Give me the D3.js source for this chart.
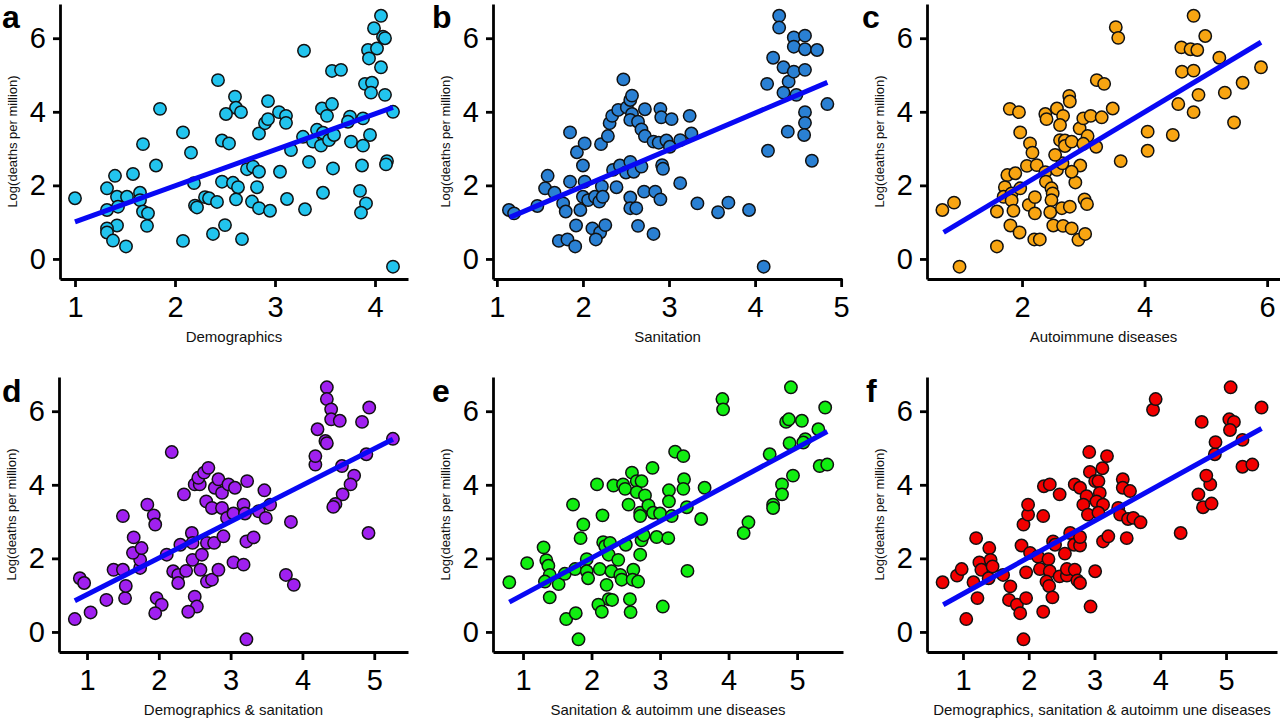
<!DOCTYPE html>
<html><head><meta charset="utf-8">
<script src="https://cdn.jsdelivr.net/npm/d3@7"></script>
<style>body{margin:0;background:#fff}svg{display:block}</style>
</head><body>
<svg id="chart" width="1280" height="721"></svg>
<script>
// ---- data ----
const panelLetters = ["a","b","c","d","e","f"];
const xTitles = ["Demographics","Sanitation","Autoimmune diseases","Demographics & sanitation","Sanitation & autoimm une diseases","Demographics, sanitation & autoimm une diseases"];
const yTitle = "Log(deaths per million)";
const yTicks = [0,2,4,6];
const xTicksA = [1,2,3,4];
const xTicksB = [1,2,3,4,5];
const xTicksC = [2,4,6];
const xTicksD = [1,2,3,4,5];
const xTicksE = [1,2,3,4,5];
const xTicksF = [1,2,3,4,5];

const ptsA = [[1.0,1.65],[1.32,1.92],[1.40,2.26],[1.58,2.31],[1.68,3.12],[1.85,4.08],[1.81,2.54],[1.42,1.69],[1.52,1.69],[1.65,1.80],[1.65,1.60],[1.32,1.33],[1.43,1.42],[1.68,1.29],[1.73,1.24],[1.72,0.90],[1.42,0.91],[1.32,0.83],[1.32,0.72],[1.38,0.50],[1.51,0.34],[2.08,3.44],[2.16,2.89],[2.19,2.06],[2.20,1.45],[2.22,1.40],[2.30,1.68],[2.34,1.65],[2.42,1.55],[2.08,0.49],[2.38,0.68],[2.50,0.92],[2.67,0.54],[2.43,4.86],[2.60,4.41],[2.61,4.11],[2.51,3.94],[2.66,3.99],[2.47,3.22],[2.54,3.14],[2.47,2.10],[2.58,2.07],[2.63,1.95],[2.61,1.62],[2.72,2.44],[2.78,2.51],[2.84,2.37],[2.82,1.95],[2.77,1.56],[2.84,1.38],[2.95,1.31],[2.84,3.41],[2.90,3.69],[2.93,3.80],[2.93,4.29],[3.04,3.99],[3.11,3.89],[3.11,3.70],[3.05,2.37],[3.16,2.96],[3.12,1.63],[3.30,1.35],[3.29,5.66],[3.28,3.32],[3.34,2.64],[3.38,3.19],[3.42,3.51],[3.47,4.09],[3.57,4.21],[3.52,3.89],[3.48,3.43],[3.46,3.08],[3.54,3.23],[3.59,3.37],[3.58,2.46],[3.48,1.80],[3.57,5.11],[3.66,5.14],[3.75,3.87],[3.73,3.73],[3.76,3.19],[3.88,3.82],[3.88,3.08],[3.95,3.37],[3.87,2.54],[3.85,1.85],[3.91,1.51],[3.86,1.26],[3.90,4.76],[3.97,4.79],[3.96,4.52],[4.10,4.46],[4.18,4.00],[4.06,5.21],[3.93,5.68],[4.02,5.72],[3.94,5.45],[4.08,6.04],[4.10,6.00],[3.99,6.27],[4.06,6.61],[4.12,2.66],[4.11,2.57],[4.18,-0.21]];
const ptsB = [[1.14,1.33],[1.20,1.24],[1.47,1.44],[1.59,2.26],[1.56,1.92],[1.67,1.80],[1.77,1.51],[1.80,1.29],[1.85,3.44],[1.85,2.10],[1.93,2.90],[2.02,3.14],[2.00,2.54],[2.02,2.10],[2.00,1.69],[2.06,1.60],[1.97,1.33],[1.92,0.91],[1.72,0.49],[1.82,0.53],[1.91,0.34],[2.11,0.83],[2.20,0.72],[2.26,0.92],[2.15,0.53],[2.14,1.69],[2.19,1.56],[2.22,1.97],[2.23,1.69],[2.39,1.95],[2.21,3.12],[2.29,3.34],[2.31,3.69],[2.34,3.89],[2.41,4.05],[2.47,4.88],[2.51,4.12],[2.55,4.32],[2.57,4.44],[2.57,3.94],[2.55,3.78],[2.64,3.73],[2.68,3.52],[2.72,3.34],[2.72,4.07],[2.90,4.08],[2.91,3.85],[3.03,3.80],[3.24,3.89],[2.82,3.19],[2.88,3.16],[2.97,3.22],[3.01,3.05],[3.13,3.23],[3.26,3.41],[2.35,2.42],[2.43,2.54],[2.50,2.35],[2.55,2.64],[2.59,2.37],[2.68,2.51],[2.92,2.55],[2.93,2.45],[2.55,1.67],[2.55,1.38],[2.62,1.38],[2.71,1.83],[2.84,1.83],[2.90,1.62],[2.64,0.90],[2.82,0.68],[3.13,2.06],[3.33,1.51],[3.57,1.27],[3.69,1.53],[3.93,1.33],[4.10,-0.21],[4.15,2.94],[4.14,4.76],[4.21,5.47],[4.28,6.61],[4.28,6.29],[4.33,5.21],[4.39,4.82],[4.33,4.52],[4.38,3.46],[4.45,5.09],[4.45,6.02],[4.45,5.77],[4.58,6.07],[4.58,5.70],[4.72,5.68],[4.58,5.14],[4.48,4.46],[4.58,3.99],[4.58,3.70],[4.57,3.37],[4.66,2.67],[4.84,4.21]];
const ptsC = [[0.70,1.33],[0.89,1.53],[0.98,-0.21],[1.59,1.29],[1.59,0.34],[1.80,4.08],[1.95,3.99],[1.97,3.44],[2.13,3.14],[2.17,2.89],[2.08,2.53],[2.24,2.55],[1.76,2.28],[1.89,2.33],[1.72,1.95],[1.70,1.69],[1.83,1.78],[1.97,1.92],[1.83,1.59],[1.86,1.31],[1.81,0.91],[1.96,0.72],[2.11,1.47],[2.21,1.24],[2.21,1.68],[2.20,0.53],[2.29,0.53],[2.38,2.36],[2.39,2.10],[2.48,1.92],[2.50,1.78],[2.48,1.60],[2.46,1.27],[2.51,0.91],[2.57,2.42],[2.66,2.60],[2.65,1.38],[2.78,1.42],[2.67,0.90],[2.81,0.83],[2.92,0.52],[3.03,0.68],[3.02,1.62],[3.06,1.49],[2.87,2.08],[2.95,2.54],[2.81,2.37],[2.38,3.94],[2.40,3.80],[2.57,4.09],[2.67,3.89],[2.62,3.64],[2.77,4.43],[2.78,4.28],[2.62,3.23],[2.70,3.22],[2.70,3.07],[2.81,3.19],[2.94,3.55],[3.00,3.82],[3.12,3.89],[3.30,3.85],[3.07,3.34],[3.00,3.13],[3.21,3.05],[3.22,4.86],[3.34,4.76],[3.48,4.09],[3.53,6.30],[3.57,6.01],[3.61,2.66],[4.05,3.46],[4.05,2.94],[4.46,3.37],[4.55,4.21],[4.61,5.09],[4.80,5.12],[4.60,5.75],[4.75,5.70],[4.86,5.68],[4.80,6.61],[4.99,6.06],[5.22,5.47],[4.88,4.46],[4.80,3.99],[5.31,4.52],[5.46,3.71],[5.60,4.79],[5.90,5.21],[2.54,2.83]];
const ptsD = [[0.83,0.35],[1.05,0.53],[0.90,1.46],[0.96,1.33],[1.27,0.87],[1.53,0.92],[1.54,1.25],[1.37,1.69],[1.50,1.69],[1.74,1.74],[1.74,1.96],[1.64,2.15],[1.76,2.28],[1.65,2.57],[1.50,3.15],[1.84,3.46],[1.93,3.17],[1.95,2.92],[2.11,2.10],[1.97,0.92],[2.04,0.74],[1.95,0.51],[2.18,4.89],[2.20,1.65],[2.27,1.55],[2.27,1.33],[2.38,1.66],[2.30,2.37],[2.35,3.74],[2.46,2.69],[2.47,2.42],[2.47,1.96],[2.60,2.10],[2.58,1.69],[2.67,1.37],[2.74,1.42],[2.83,1.69],[2.50,0.96],[2.53,0.69],[2.41,0.55],[2.67,2.42],[2.77,2.42],[2.90,2.60],[3.04,1.89],[3.18,1.83],[3.22,-0.20],[2.50,4.01],[2.57,4.01],[2.55,4.19],[2.63,4.33],[2.69,4.46],[2.78,3.92],[2.83,4.15],[2.88,3.78],[2.97,4.01],[3.06,3.92],[3.23,4.10],[2.66,3.55],[2.74,3.37],[2.88,3.37],[2.95,3.10],[3.04,3.22],[3.18,3.46],[3.20,3.22],[3.39,3.28],[3.49,3.10],[3.47,3.85],[3.55,3.46],[3.22,2.46],[3.32,2.57],[3.84,2.99],[3.77,1.55],[3.88,1.28],[4.18,4.55],[4.18,4.78],[4.21,5.51],[4.32,5.19],[4.34,5.13],[4.34,6.65],[4.34,6.33],[4.40,6.05],[4.40,5.78],[4.52,5.74],[4.55,4.51],[4.72,4.25],[4.67,4.01],[4.56,3.74],[4.46,3.48],[4.43,3.40],[4.83,5.71],[4.93,6.10],[4.89,4.83],[4.92,2.69],[5.26,5.25]];
const ptsE = [[0.80,1.35],[1.06,1.87],[1.30,2.30],[1.34,1.95],[1.37,1.80],[1.39,1.55],[1.32,1.37],[1.52,1.30],[1.61,1.58],[1.39,0.94],[1.63,0.35],[1.77,0.51],[1.81,-0.20],[1.73,3.46],[1.88,2.92],[1.84,2.55],[1.76,1.71],[1.93,1.98],[1.93,1.65],[1.95,1.46],[2.12,1.71],[2.22,1.28],[2.25,0.89],[2.30,0.87],[2.10,0.74],[2.15,0.55],[2.08,4.01],[2.16,3.17],[2.17,2.44],[2.20,2.33],[2.27,2.42],[2.25,2.10],[2.39,1.96],[2.29,1.65],[2.42,1.55],[2.44,1.42],[2.50,2.37],[2.61,1.69],[2.60,1.42],[2.68,1.37],[2.56,0.89],[2.57,0.54],[2.71,2.10],[2.73,2.49],[2.76,2.63],[2.95,2.58],[3.12,2.55],[3.04,0.69],[3.40,1.66],[2.32,3.98],[2.46,4.01],[2.49,3.89],[2.59,4.33],[2.66,4.10],[2.73,4.10],[2.66,3.80],[2.78,3.71],[2.54,3.46],[2.71,3.24],[2.71,3.15],[2.83,3.44],[2.90,3.24],[3.00,3.22],[3.17,3.15],[3.13,3.85],[3.13,3.55],[2.89,4.46],[3.22,4.90],[3.34,4.78],[3.35,4.15],[3.34,3.89],[3.39,3.39],[3.65,3.92],[3.60,3.07],[3.91,6.33],[3.92,6.05],[4.29,2.98],[4.22,2.69],[4.60,4.83],[4.65,3.46],[4.65,3.37],[4.78,4.01],[4.78,3.74],[4.94,4.25],[4.89,5.13],[4.84,5.71],[4.88,5.78],[5.07,5.74],[4.91,6.65],[5.12,5.24],[5.09,5.15],[5.31,5.51],[5.41,6.10],[5.33,4.51],[5.44,4.55]];
const ptsF = [[0.69,1.35],[0.91,1.53],[0.98,1.71],[1.05,0.35],[1.16,1.35],[1.22,0.92],[1.20,2.55],[1.25,1.89],[1.28,1.69],[1.39,1.46],[1.40,2.28],[1.42,1.96],[1.45,1.78],[1.61,1.55],[1.72,1.24],[1.70,0.87],[1.82,0.74],[1.87,0.51],[1.96,0.92],[1.92,-0.20],[2.22,0.55],[1.96,1.62],[1.89,2.35],[1.92,2.92],[1.99,3.19],[1.99,3.46],[2.22,3.15],[2.02,2.15],[2.14,2.05],[2.17,1.71],[2.30,1.98],[2.32,1.65],[2.27,1.37],[2.31,1.25],[2.36,0.94],[2.47,1.51],[2.58,1.53],[2.58,1.71],[2.55,2.13],[2.37,2.46],[2.40,2.37],[2.70,1.69],[2.74,1.40],[2.78,1.33],[3.01,1.65],[2.94,0.69],[2.63,2.69],[2.69,2.37],[2.78,2.35],[2.78,2.58],[2.23,3.96],[2.32,4.01],[2.47,3.74],[2.70,4.01],[2.78,3.92],[2.88,3.69],[2.83,3.46],[2.90,3.19],[2.92,4.89],[2.93,4.35],[3.01,4.10],[3.06,4.10],[3.12,4.45],[3.19,4.78],[3.08,3.78],[3.03,3.55],[3.13,3.46],[3.06,3.24],[3.13,2.46],[3.21,2.60],[3.36,3.37],[3.39,3.19],[3.51,3.07],[3.59,3.10],[3.70,2.98],[3.43,4.15],[3.43,3.92],[3.54,3.83],[3.49,2.55],[3.89,6.04],[3.93,6.33],[4.31,2.69],[4.58,3.74],[4.65,3.39],[4.78,3.49],[4.76,4.01],[4.70,4.25],[4.83,4.83],[4.84,5.16],[4.63,5.71],[5.05,5.78],[5.12,5.71],[5.06,5.49],[5.07,6.65],[5.25,5.22],[5.25,4.49],[5.40,4.55],[5.54,6.10]];

// fitted regression line endpoints [[x0,y0],[x1,y1]]
const fitA = [[1.0,1.01],[4.18,4.12]];
const fitB = [[1.15,1.13],[4.84,4.80]];
const fitC = [[0.72,0.72],[5.90,5.89]];
const fitD = [[0.83,0.85],[5.26,5.24]];
const fitE = [[0.80,0.81],[5.44,5.45]];
const fitF = [[0.70,0.74],[5.54,5.53]];

const fills = ["#22c4ee","#2a80d3","#f8a512","#a020f0","#11ee11","#f20000"];

// ---- layout ----
const yDomain = [-0.545, 6.93];
const layout = [
  {l:60,  r:408,  t:4,   b:279, xd:[0.85,4.33],  lx:2,   ly:28},
  {l:493, r:842,  t:4,   b:279, xd:[0.955,5.01], lx:432, ly:28},
  {l:927, r:1280, t:4,   b:279, xd:[0.449,6.21], lx:862, ly:28},
  {l:59,  r:408,  t:377, b:652, xd:[0.61,5.47],  lx:2,   ly:402},
  {l:493, r:843,  t:377, b:652, xd:[0.562,5.67], lx:432, ly:402},
  {l:927, r:1277, t:377, b:652, xd:[0.453,5.775],lx:866, ly:402}
];
const allPts = [ptsA,ptsB,ptsC,ptsD,ptsE,ptsF];
const allFits = [fitA,fitB,fitC,fitD,fitE,fitF];
const allXTicks = [xTicksA,xTicksB,xTicksC,xTicksD,xTicksE,xTicksF];

const svg = d3.select("#chart");
const FONT = "'Liberation Sans', Arial, sans-serif";
const fmt = d3.format("d");

layout.forEach((L,i)=>{
  const x = d3.scaleLinear().domain(L.xd).range([L.l, L.r]);
  const y = d3.scaleLinear().domain(yDomain).range([L.b, L.t]);
  const g = svg.append("g");

  // points
  g.append("g").selectAll("circle").data(allPts[i]).join("circle")
    .attr("cx", d=>x(d[0])).attr("cy", d=>y(d[1])).attr("r", 6.2)
    .attr("fill", fills[i]).attr("stroke", "#111").attr("stroke-width", 1.5);

  // fit line
  g.append("line")
    .attr("x1", x(allFits[i][0][0])).attr("y1", y(allFits[i][0][1]))
    .attr("x2", x(allFits[i][1][0])).attr("y2", y(allFits[i][1][1]))
    .attr("stroke", "#0808f4").attr("stroke-width", 5).attr("stroke-linecap","butt");

  // axes
  const xa = g.append("g").attr("transform", `translate(0,${L.b})`)
    .call(d3.axisBottom(x).tickValues(allXTicks[i]).tickFormat(fmt).tickSize(8).tickPadding(9).tickSizeOuter(0));
  const ya = g.append("g").attr("transform", `translate(${L.l},0)`)
    .call(d3.axisLeft(y).tickValues(yTicks).tickFormat(fmt).tickSize(7).tickPadding(7).tickSizeOuter(0));
  [xa,ya].forEach(a=>{
    a.select(".domain").attr("stroke","#000").attr("stroke-width",2.8);
    a.selectAll(".tick line").attr("stroke","#000").attr("stroke-width",2.8);
    a.selectAll(".tick text").attr("fill","#000").style("font-family",FONT).style("font-size","29px");
  });
  xa.selectAll(".tick text").attr("dy","0.71em");

  // x title
  g.append("text").attr("x", (L.l+L.r)/2).attr("y", L.b+63)
    .attr("text-anchor","middle").style("font-family",FONT).style("font-size","15px")
    .attr("fill","#111").text(xTitles[i]);
  // y title
  g.append("text").attr("transform", `translate(${L.l-43},${(L.t+L.b)/2}) rotate(-90)`)
    .attr("text-anchor","middle").style("font-family",FONT).style("font-size","13px")
    .attr("fill","#111").text(yTitle);
  // panel letter
  g.append("text").attr("x", L.lx).attr("y", L.ly)
    .style("font-family",FONT).style("font-size","32px").style("font-weight","bold")
    .attr("fill","#000").text(panelLetters[i]);
});
</script>
</body></html>
